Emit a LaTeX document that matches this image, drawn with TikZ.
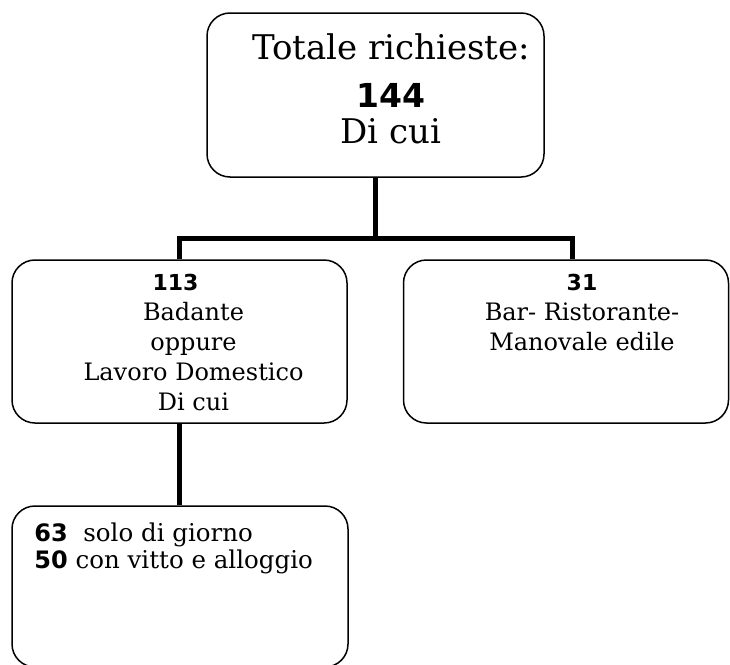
\documentclass[tikz,border=0pt]{standalone}
\usepackage{fontspec}
\setmainfont{DejaVu Serif}
\newfontfamily\numfont{DejaVu Sans}
\usetikzlibrary{positioning}

\tikzset{
  box/.style={draw,rounded corners=23pt,line width=1.5pt},
  conn/.style={line width=5pt},
  boxtxt/.style={inner sep=0pt,font=\fontsize{24}{30}\selectfont}
}
\newcommand{\numtxt}[2]{{\numfont\bfseries\fontsize{#1}{30}\selectfont #2}}

\begin{document}
\begin{tikzpicture}[x=1pt,y=-1pt]
%
\useasboundingbox (0,0) rectangle (730,664);
\clip (0,0) rectangle (730,664);
%
\node[box,minimum width=337pt,minimum height=164pt] (total) at (375.5,95) {};
\node[box,minimum width=335pt,minimum height=163pt] (badanti) at (179.5,341.5) {};
\node[box,minimum width=325pt,minimum height=163pt] (bar) at (566,341.5) {};
\node[box,minimum width=336pt,minimum height=161pt] (giorno) at (180,586.5) {};
%
\node[boxtxt,anchor=north,align=center,font=\fontsize{34}{40}\selectfont] (totaletxt)
  at ([xshift=15.5pt,yshift=-21pt]total.north)
  {Totale richieste:\\[8pt]
   \numtxt{33}{144}\\[-4pt]
   Di cui};
\node[boxtxt,anchor=north,align=center] (badantitxt) at ([xshift=14pt,yshift=-15pt]badanti.north)
  {\makebox[82pt][l]{\numtxt{22}{113}}\\
   Badante\\ oppure\\ Lavoro Domestico\\ Di cui};
\node[boxtxt,anchor=north,align=center] (bartxt) at ([xshift=16pt,yshift=-15pt]bar.north)
  {\numtxt{22}{31}\\
   Bar- Ristorante-\\ Manovale edile};
\node[boxtxt,anchor=north west,align=left,font=\fontsize{24.5}{27}\selectfont] (giornotxt)
  at ([xshift=23pt,yshift=-17pt]giorno.north west)
  {\numtxt{24}{63}\ \ solo di giorno\\
   \numtxt{24}{50} con vitto e alloggio};
%
\coordinate (fork) at (375.5,238);
\draw[conn] (total.south) -- (fork);
\draw[conn] (badanti.north) |- (fork) -| ([xshift=6pt]bar.north);
\draw[conn] (badanti.south) -- (badanti.south |- giorno.north);
%
\end{tikzpicture}
\end{document}
